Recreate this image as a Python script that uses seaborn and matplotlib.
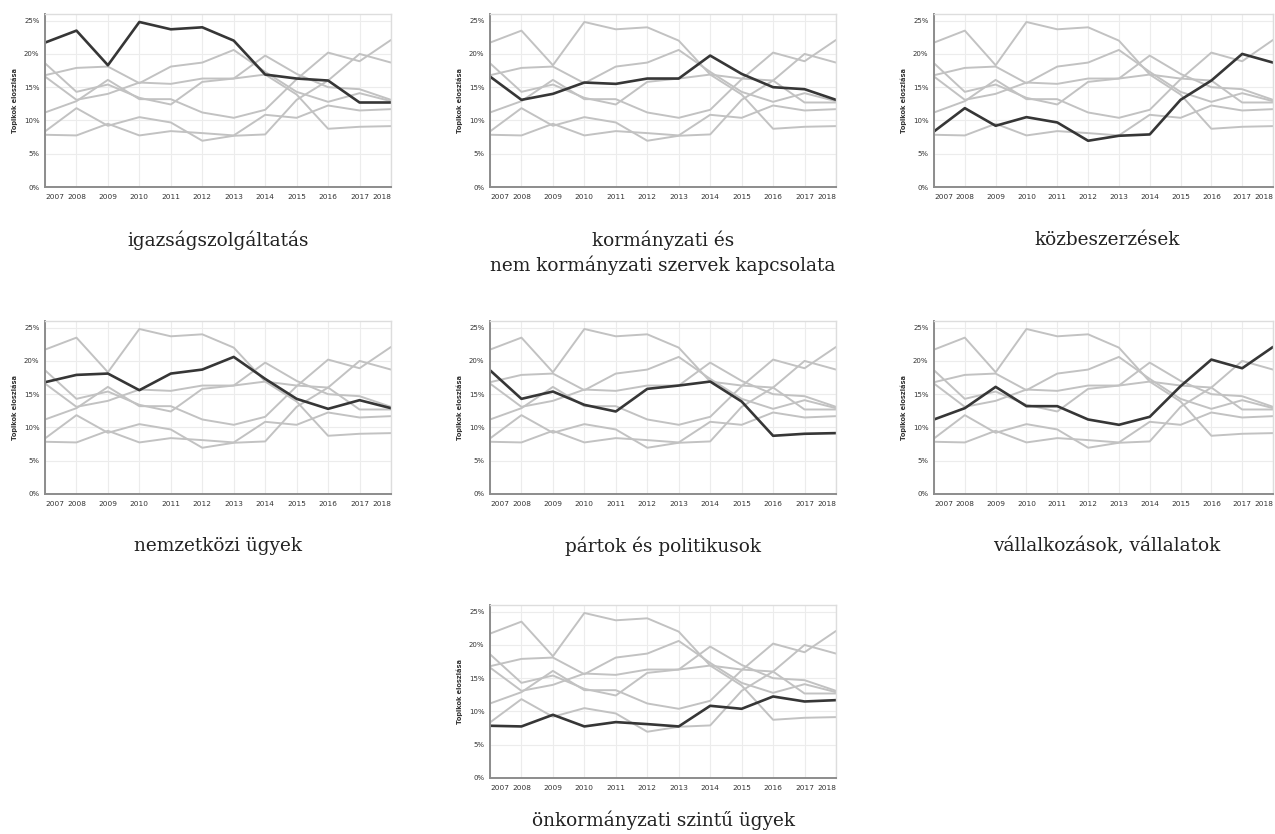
import matplotlib
matplotlib.use("Agg")
import matplotlib.pyplot as plt
import seaborn as sns
import pandas as pd
from matplotlib.ticker import FuncFormatter

years = list(range(2007, 2019))
topics = [
    "igazságszolgáltatás",
    "kormányzati és\nnem kormányzati szervek kapcsolata",
    "közbeszerzések",
    "nemzetközi ügyek",
    "pártok és politikusok",
    "vállalkozások, vállalatok",
    "önkormányzati szintű ügyek",
]
igazsag = [21.7, 23.5, 18.3, 24.8, 23.7, 24.0, 22.0, 16.9, 16.3, 16.0, 12.7, 12.7]
kormanyzati = [16.6, 13.1, 14.0, 15.7, 15.5, 16.3, 16.3, 19.75, 17.0, 15.0, 14.7, 13.1]
kozbeszerzes = [8.35, 11.85, 9.2, 10.5, 9.7, 6.95, 7.7, 7.9, 13.1, 16.0, 20.0, 18.7]
nemzetkozi = [16.8, 17.9, 18.1, 15.6, 18.1, 18.7, 20.6, 17.3, 14.3, 12.8, 14.1, 12.9]
partok = [18.6, 14.3, 15.4, 13.4, 12.4, 15.8, 16.3, 16.9, 13.9, 8.75, 9.05, 9.15]
vallalkozas = [11.2, 12.9, 16.1, 13.2, 13.2, 11.2, 10.4, 11.6, 16.2, 20.2, 18.9, 22.1]
onkormanyzat = [7.85, 7.75, 9.5, 7.75, 8.4, 8.1, 7.75, 10.85, 10.4, 12.25, 11.5, 11.7]
series = [igazsag, kormanyzati, kozbeszerzes, nemzetkozi, partok, vallalkozas, onkormanyzat]
y_ticks = [0, 5, 10, 15, 20, 25]
y_label = "Topikok eloszlása"

rows = []
for t, vals in zip(topics, series):
    for yr, v in zip(years, vals):
        rows.append({"topic": t, "year": yr, "value": v})
df = pd.DataFrame(rows)

sns.set_style("white")
W, H = 1275, 834
fig = plt.figure(figsize=(W / 100, H / 100), dpi=100)

# panel placement in pixels: (left, width, bottom-of-axes y, title top y)
panels = [
    (45, 346, 187, 231),
    (490, 346, 187, 231),
    (934, 339, 187, 231),
    (45, 346, 494, 537),
    (490, 346, 494, 537),
    (934, 339, 494, 537),
    (490, 346, 778, 810),
]
ah = 173

grey = "#c2c2c2"
dark = "#363636"
for i, (t, (lx, aw, by, ty)) in enumerate(zip(topics, panels)):
    ax = fig.add_axes([lx / W, 1 - by / H, aw / W, ah / H])
    others = df[df["topic"] != t]
    sns.lineplot(data=others, x="year", y="value", hue="topic",
                 palette={k: grey for k in others["topic"].unique()},
                 legend=False, ax=ax, linewidth=1.4)
    sns.lineplot(data=df[df["topic"] == t], x="year", y="value",
                 color=dark, legend=False, ax=ax, linewidth=1.9)
    ax.set_xlim(years[0], years[-1])
    ax.set_ylim(0, 26)
    ax.set_xticks(years)
    ax.set_xticklabels([str(y) for y in years], fontsize=5.3, color="#333")
    labs = ax.get_xticklabels()
    labs[0].set_ha("left")
    labs[-1].set_ha("right")
    ax.set_yticks(y_ticks)
    ax.yaxis.set_major_formatter(FuncFormatter(lambda v, p: f"{int(v)}%"))
    ax.tick_params(axis="y", labelsize=5, colors="#333", length=3, width=0.8, pad=1)
    ax.tick_params(axis="x", length=3, width=0.8, pad=2, colors="#333")
    for tk in ax.get_xticklines() + ax.get_yticklines():
        tk.set_color("#888")
    ax.grid(True, color="#ececec", linewidth=0.8)
    ax.set_axisbelow(True)
    for s in ["top", "right"]:
        ax.spines[s].set_color("#dddddd")
        ax.spines[s].set_linewidth(1.0)
    for s in ["left", "bottom"]:
        ax.spines[s].set_color("#8c8c8c")
        ax.spines[s].set_linewidth(1.4)
    ax.set_xlabel("")
    ax.set_ylabel(y_label, fontsize=4.8, fontweight="bold", color="#333", labelpad=4)
    fig.text((lx + 346 / 2) / W, 1 - ty / H, t, ha="center", va="top",
             fontsize=13.3, family="DejaVu Serif", color="#222", linespacing=1.3)

fig.savefig("out.png", dpi=100)
